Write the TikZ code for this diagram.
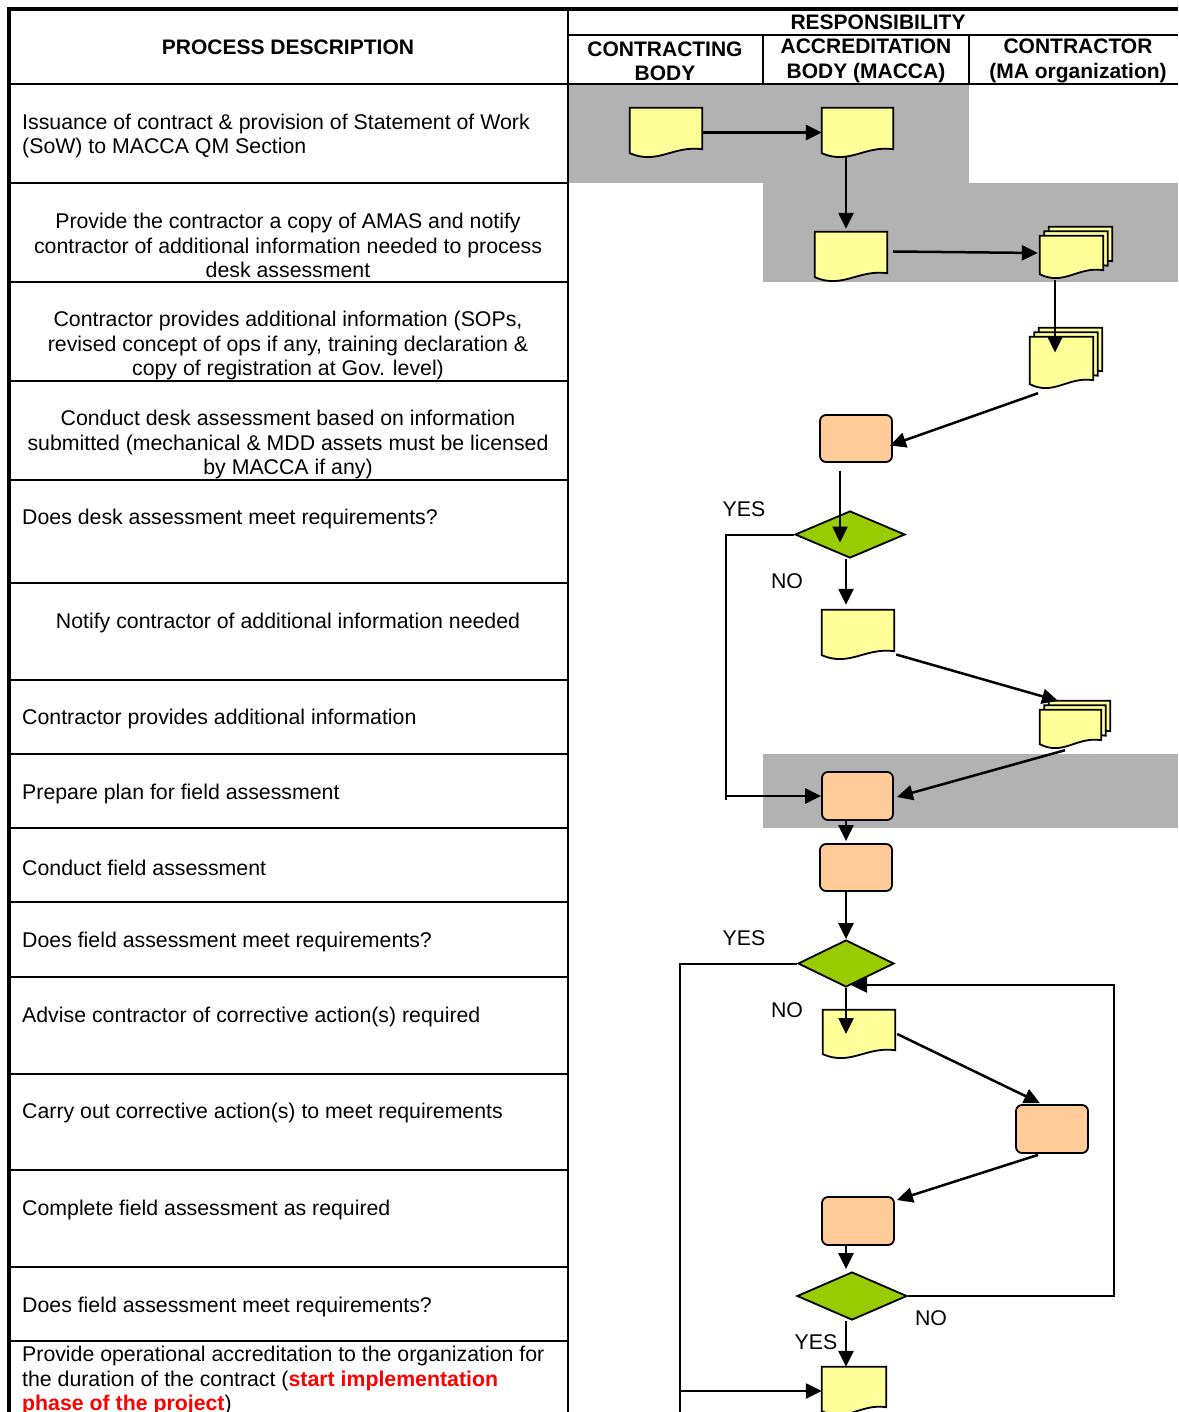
\documentclass[tikz,border=0pt]{standalone}
\usepackage{fontspec}
\setmainfont{Liberation Sans}
\usetikzlibrary{arrows.meta,shapes.geometric,calc}
\definecolor{docy}{HTML}{FFFF99}
\definecolor{peach}{HTML}{FFCC99}
\definecolor{dgreen}{HTML}{99CC00}
\definecolor{shadegray}{HTML}{B2B2B2}
\newcommand\docshape[3]{%
  \filldraw[docline] let \p1=(#1.north west), \p2=(#1.south east) in
  ({\x1+#2},{\y1+#3}) -- ({\x2+#2},{\y1+#3}) -- ({\x2+#2},{\y2+#3+8pt})
  .. controls ({\x2+#2-0.4*(\x2-\x1)},{\y2+#3+12pt}) and ({\x2+#2-0.62*(\x2-\x1)},{\y2+#3-8pt}) ..
  ({\x1+#2},{\y2+#3+4pt}) -- cycle;}
\newcommand\multidoc[1]{\docshape{#1}{9pt}{9pt}\docshape{#1}{4.5pt}{4.5pt}\docshape{#1}{0pt}{0pt}}
\begin{document}
\begin{tikzpicture}[x=1pt,y=-1pt,
  docline/.style={line width=1.8pt, fill=docy, draw=black},
  docnode/.style={rectangle, draw=none, inner sep=0pt, minimum width=72pt, minimum height=49pt},
  mdnode/.style={rectangle, draw=none, inner sep=0pt, minimum width=63pt, minimum height=42pt},
  procbox/.style={rectangle, rounded corners=6pt, draw, line width=1.8pt, fill=peach, inner sep=0pt, minimum width=72pt, minimum height=47pt},
  decision/.style={diamond, draw, line width=1.8pt, fill=dgreen, inner sep=0pt, minimum width=110pt, minimum height=47pt},
  arr/.style={line width=2.5pt, -{Triangle[length=16pt,width=15pt]}},
  conn/.style={line width=2pt},
  tline/.style={line width=1.5pt},
  desc/.style={font=\fontsize{21.3}{24.6}\selectfont, inner sep=0pt},
  hdr/.style={font=\fontsize{21}{24.3}\selectfont\bfseries, inner sep=0pt, align=center},
  lbl/.style={font=\fontsize{21.3}{24.6}\selectfont, inner sep=0pt}
]
\useasboundingbox (0,0) rectangle (1178,1412);
\fill[white] (0,0) rectangle (1178,1412);
% shaded swimlane areas
\fill[shadegray] (569,85) rectangle (969,183);
\fill[shadegray] (763,183) rectangle (1178,282);
\fill[shadegray] (763,754) rectangle (1178,828);
% table lines
\draw[line width=4pt] (9,1412) -- (9,9) -- (1178,9);
\draw[tline] (568,9) -- (568,1412);
\draw[tline] (568,35) -- (1178,35);
\draw[tline] (763,35) -- (763,84);
\draw[tline] (969,35) -- (969,84);
\draw[tline] (9,84) -- (1178,84);
\foreach \yy in {183,282,381,480,583,680,754,828,902,977,1074,1170,1267,1341}
  \draw[tline] (9,\yy) -- (568,\yy);
% headers
\node[hdr] (hproc) at (288,47) {PROCESS DESCRIPTION};
\node[hdr] (hresp) at (878,22) {RESPONSIBILITY};
\node[hdr] (hcb) at (665,61) {CONTRACTING\\BODY};
\node[hdr] (hab) at (866,61) {ACCREDITATION\\BODY (MACCA)};
\node[hdr] (hco) at (1078,61) {CONTRACTOR\\(MA organization)};
% descriptions
\node[desc, anchor=west, align=left] (r1) at (22,136) {Issuance of contract \& provision of Statement of Work\\(SoW) to MACCA QM Section};
\node[desc, align=center] (r2) at (288,245.5) {Provide the contractor a copy of AMAS and notify\\contractor of additional information needed to process\\desk assessment};
\node[desc, align=center] (r3) at (288,345.5) {Contractor provides additional information (SOPs,\\revised concept of ops if any, training declaration \&\\copy of registration at Gov. level)};
\node[desc, align=center] (r4) at (288,444.5) {Conduct desk assessment based on information\\submitted (mechanical \& MDD assets must be licensed\\by MACCA if any)};
\node[desc, anchor=west] (r5) at (22,518.5) {Does desk assessment meet requirements?};
\node[desc] (r6) at (288,622.5) {Notify contractor of additional information needed};
\node[desc, anchor=west] (r7) at (22,718.5) {Contractor provides additional information};
\node[desc, anchor=west] (r8) at (22,793.5) {Prepare plan for field assessment};
\node[desc, anchor=west] (r9) at (22,867.5) {Conduct field assessment};
\node[desc, anchor=west] (r10) at (22,941.5) {Does field assessment meet requirements?};
\node[desc, anchor=west] (r11) at (22,1016.5) {Advise contractor of corrective action(s) required};
\node[desc, anchor=west] (r12) at (22,1112.5) {Carry out corrective action(s) to meet requirements};
\node[desc, anchor=west] (r13) at (22,1209.5) {Complete field assessment as required};
\node[desc, anchor=west] (r14) at (22,1306.5) {Does field assessment meet requirements?};
\node[desc, anchor=west, align=left] (r15) at (22,1380.5) {Provide operational accreditation to the organization for\\the duration of the contract ({\color{red}\bfseries start implementation}\\{\color{red}\bfseries phase of the project})};
% flow nodes
\node[docnode] (doc1) at (666,132.5) {};
\node[docnode, minimum width=71pt] (doc2) at (857.5,132.5) {};
\node[docnode] (doc3) at (851,256.5) {};
\node[mdnode] (md1) at (1071.5,257) {};
\node[mdnode, minimum height=51pt] (md2) at (1061.5,362.5) {};
\node[procbox] (p1) at (856,438.5) {};
\node[decision] (d1) at (850,534.5) {};
\node[docnode] (doc4) at (858,634.5) {};
\node[mdnode, minimum width=61pt, minimum height=38pt] (md3) at (1070.5,729) {};
\node[procbox, minimum width=71pt, minimum height=48pt] (p2) at (857.5,796) {};
\node[procbox] (p3) at (856,867.5) {};
\node[decision, minimum width=96pt] (d2) at (846,963.5) {};
\node[docnode, minimum height=48pt] (doc5) at (859,1034) {};
\node[procbox, minimum height=48pt] (p4) at (1052,1129) {};
\node[procbox, minimum height=48pt] (p5) at (858,1221) {};
\node[decision, minimum height=48pt] (d3) at (852,1296) {};
\node[docnode, minimum width=64pt, minimum height=48pt] (doc6) at (854,1391) {};
\docshape{doc1}{0pt}{0pt}
\docshape{doc2}{0pt}{0pt}
\docshape{doc3}{0pt}{0pt}
\multidoc{md1}
\multidoc{md2}
\docshape{doc4}{0pt}{0pt}
\multidoc{md3}
\docshape{doc5}{0pt}{0pt}
\docshape{doc6}{0pt}{0pt}
% labels
\node[lbl] (yes1) at (744,509) {YES};
\node[lbl] (no1) at (787,581) {NO};
\node[lbl] (yes2) at (744,938) {YES};
\node[lbl] (no2) at (787,1010) {NO};
\node[lbl] (no3) at (931,1318) {NO};
\node[lbl] (yes3) at (816,1342) {YES};
% connectors
\draw[arr] (doc1.east) -- (doc2.west);
\draw[arr] ([xshift=-11.5pt]doc2.south) -- ([xshift=-5pt,yshift=3pt]doc3.north);
\draw[arr] ([xshift=6pt,yshift=5pt]doc3.east) -- ([xshift=-2pt,yshift=4pt]md1.west);
\draw[arr] ([xshift=-16.5pt,yshift=-2pt]md1.south) -- ([xshift=-6.5pt,yshift=10pt]md2.center);
\draw[arr] ([xshift=-23.5pt,yshift=-5pt]md2.south) -- ([xshift=-3pt,yshift=-7pt]p1.east);
\draw[arr] ([xshift=-16pt,yshift=-8pt]p1.south) -- ([xshift=-10pt,yshift=-8pt]d1.center);
\draw[arr] ([xshift=-4pt]d1.south) -- ([xshift=-12pt,yshift=5pt]doc4.north);
\coordinate (ycorner1) at (726,800);
\draw[conn] (d1.west) -| (ycorner1);
\draw[arr] (ycorner1 |- p2.west) -- (p2.west);
\draw[arr] ([xshift=2pt,yshift=-20pt]doc4.east) -- ([xshift=-12.5pt,yshift=9pt]md3.north);
\draw[arr] ([xshift=-5.5pt,yshift=-2pt]md3.south) -- ([xshift=3pt,yshift=-1pt]p2.east);
\draw[arr] ([xshift=-11.5pt]p2.south) -- ([xshift=-10pt,yshift=2pt]p3.north);
\draw[arr] ([xshift=-10pt]p3.south) -- (d2.north);
\coordinate (ybot) at (680,1416);
\draw[conn] (d2.west) -| (ybot);
\draw[arr] (ybot |- doc6.west) -- (doc6.west);
\draw[arr] (d2.south) -- ([xshift=-13pt]doc5.center);
\draw[arr] ([xshift=2pt]doc5.east) -- ([xshift=-12pt,yshift=1pt]p4.north);
\draw[arr] ([xshift=-14pt,yshift=-1pt]p4.south) -- ([xshift=2pt,yshift=21pt]p5.east);
\draw[arr] ([xshift=-12pt]p5.south) -- ([xshift=-6pt,yshift=2pt]d3.north);
\draw[arr] (d3.east) -- ([xshift=206pt]d3.east) |- ([xshift=5pt,yshift=-21.5pt]d2.center);
\draw[arr] ([xshift=-6pt]d3.south) -- ([xshift=-8pt]doc6.north);
\end{tikzpicture}
\end{document}
